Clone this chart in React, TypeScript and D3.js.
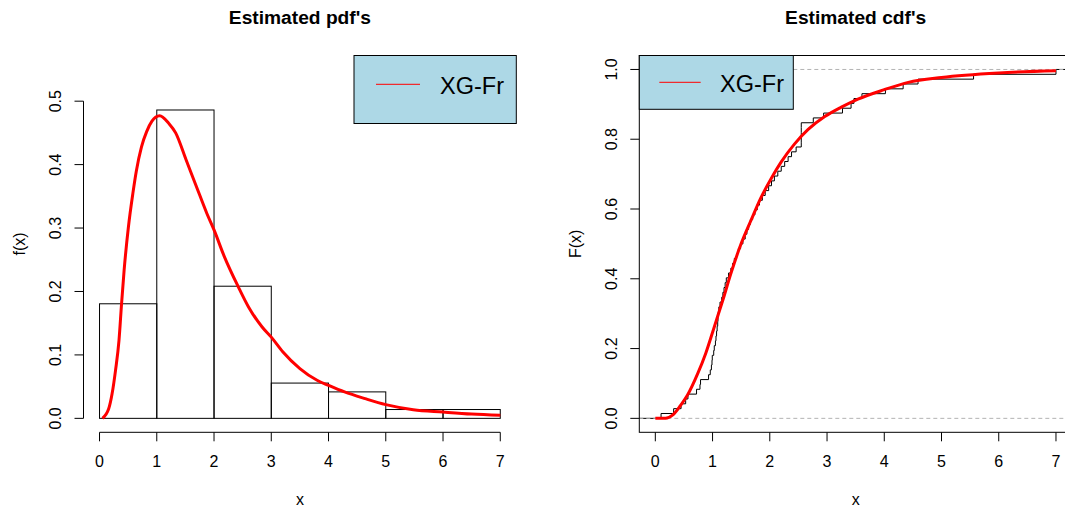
import * as d3 from 'd3'

// histogram (density scale), breaks 0..7
const HIST_BREAKS = [0, 1, 2, 3, 4, 5, 6, 7]
const HIST_DENSITY = [0.1806, 0.4861, 0.2083, 0.0556, 0.0417, 0.0139, 0.0139]

// sorted sample (n = 72)
const SAMPLE = [
  0.10, 0.32, 0.45, 0.53, 0.57, 0.72, 0.78, 0.79, 0.93, 0.96, 0.98, 0.99, 0.995,
  1.02, 1.03, 1.05, 1.06, 1.07, 1.08, 1.09, 1.095, 1.10, 1.11,
  1.13, 1.16, 1.18, 1.20, 1.22, 1.24,
  1.28, 1.32, 1.35, 1.38, 1.42, 1.45, 1.49,
  1.53, 1.57, 1.60, 1.63, 1.66, 1.70, 1.74,
  1.78, 1.82, 1.87, 1.92, 1.98,
  2.03, 2.08, 2.14, 2.20, 2.26, 2.32, 2.38, 2.46,
  2.55, 2.55, 2.55, 2.55, 2.55, 2.76, 2.94,
  3.27, 3.42, 3.47, 3.61,
  4.02, 4.33, 4.59,
  5.56,
  7.0
]

// fitted XG-Fr density
const PDF_X = [0.05, 0.16, 0.22, 0.28, 0.34, 0.385, 0.43, 0.505, 0.583, 0.643, 0.733, 0.823, 0.913, 1.05, 1.21, 1.33, 1.51, 1.69, 1.875, 2.0, 2.18, 2.42, 2.6, 2.84, 3.0, 3.2, 3.5, 3.8, 4.0, 4.28, 4.64, 5.0, 5.48, 6.0, 6.5, 7.0]
const PDF_Y = [0, 0.015, 0.039, 0.076, 0.123, 0.181, 0.234, 0.302, 0.355, 0.39, 0.428, 0.452, 0.468, 0.477, 0.465, 0.45, 0.408, 0.366, 0.323, 0.297, 0.255, 0.208, 0.176, 0.144, 0.128, 0.105, 0.0785, 0.06, 0.052, 0.0416, 0.031, 0.0216, 0.0137, 0.01, 0.0068, 0.0047]

// fitted XG-Fr cdf
const CDF_X = [0, 0.18, 0.3, 0.44, 0.56, 0.74, 0.88, 1.03, 1.18, 1.32, 1.5, 1.67, 1.85, 2.02, 2.2, 2.43, 2.67, 2.96, 3.25, 3.54, 4.0, 4.42, 5.0, 6.0, 7.0]
const CDF_Y = [0, 0, 0.009, 0.037, 0.066, 0.128, 0.186, 0.262, 0.339, 0.415, 0.501, 0.567, 0.634, 0.686, 0.735, 0.786, 0.828, 0.865, 0.892, 0.915, 0.942, 0.963, 0.977, 0.99, 0.996]

const X_TICKS = [0, 1, 2, 3, 4, 5, 6, 7]
const PDF_TICKS = [0, 0.1, 0.2, 0.3, 0.4, 0.5]
const CDF_TICKS = [0, 0.2, 0.4, 0.6, 0.8, 1.0]

const FONT = '"Liberation Sans", Arial, sans-serif'
const TOP = 55.5
const BOTTOM = 432.3

export default function App() {
  // left panel scales
  const xL = d3.scaleLinear().domain([-0.28, 7.28]).range([83.5, 516.3])
  const yL = d3.scaleLinear().domain([-0.022, 0.572]).range([BOTTOM, TOP])
  // right panel scales
  const xR = d3.scaleLinear().domain([-0.28, 7.28]).range([639.3, 1072])
  const yR = d3.scaleLinear().domain([-0.04, 1.04]).range([BOTTOM, TOP])

  const pdfLine = d3.line<number>()
    .x((_, i) => xL(PDF_X[i]))
    .y(d => yL(d))
    .curve(d3.curveMonotoneX)

  const cdfLine = d3.line<number>()
    .x((_, i) => xR(CDF_X[i]))
    .y(d => yR(d))
    .curve(d3.curveMonotoneX)

  // ecdf step path with verticals
  const n = SAMPLE.length
  let ecdf = `M${xR.range()[0]},${yR(0)}`
  SAMPLE.forEach((v, i) => {
    ecdf += `H${xR(v)}V${yR((i + 1) / n)}`
  })
  ecdf += `H${xR.range()[1]}`

  const yLabel = (x: number, y: number, t: string) => (
    <text transform={`translate(${x},${y}) rotate(-90)`} textAnchor="middle">{t}</text>
  )

  return (
    <svg width={1065} height={510} style={{ position: 'absolute', left: 0, top: 0, background: '#fff' }}
      fontFamily={FONT} fontSize={16}>
      <defs>
        <clipPath id="clipR">
          <rect x={639.3} y={TOP} width={1072 - 639.3} height={BOTTOM - TOP} />
        </clipPath>
      </defs>

      {/* ---------- left: estimated pdf ---------- */}
      <text x={(83.5 + 516.3) / 2} y={24} textAnchor="middle" fontWeight="bold" fontSize={19.2}>Estimated pdf's</text>

      {HIST_DENSITY.map((d, i) => (
        <rect key={i}
          x={xL(HIST_BREAKS[i])} y={yL(d)}
          width={xL(HIST_BREAKS[i + 1]) - xL(HIST_BREAKS[i])}
          height={yL(0) - yL(d)}
          fill="none" stroke="#000" strokeWidth={1} />
      ))}

      <path d={pdfLine(PDF_Y) || ''} fill="none" stroke="#ff0000" strokeWidth={3} />

      {/* y axis */}
      <line x1={83.5} x2={83.5} y1={yL(0)} y2={yL(0.5)} stroke="#000" />
      {PDF_TICKS.map(t => (
        <g key={t}>
          <line x1={74.5} x2={83.5} y1={yL(t)} y2={yL(t)} stroke="#000" />
          {yLabel(61, yL(t), t.toFixed(1))}
        </g>
      ))}
      {/* x axis */}
      <line x1={xL(0)} x2={xL(7)} y1={BOTTOM} y2={BOTTOM} stroke="#000" />
      {X_TICKS.map(t => (
        <g key={t}>
          <line x1={xL(t)} x2={xL(t)} y1={BOTTOM} y2={BOTTOM + 9} stroke="#000" />
          <text x={xL(t)} y={467} textAnchor="middle">{t}</text>
        </g>
      ))}
      <text x={(83.5 + 516.3) / 2} y={505} textAnchor="middle">x</text>
      {yLabel(24.5, (TOP + BOTTOM) / 2, 'f(x)')}

      {/* legend */}
      <rect x={354} y={TOP} width={516.3 - 354} height={68} fill="#add8e6" stroke="#000" />
      <line x1={376} x2={420} y1={84.3} y2={84.3} stroke="#ff0000" strokeWidth={1} />
      <text x={440} y={94.3} fontSize={23.5}>XG-Fr</text>

      {/* ---------- right: estimated cdf ---------- */}
      <text x={(639.3 + 1072) / 2} y={24} textAnchor="middle" fontWeight="bold" fontSize={19.2}>Estimated cdf's</text>

      <g clipPath="url(#clipR)">
        <path d={ecdf} fill="none" stroke="#000" strokeWidth={1} />
        {[0, 1].map(h => (
          <line key={h} x1={639.3} x2={1072} y1={yR(h)} y2={yR(h)} stroke="#b3b3b3" strokeDasharray="4,3" />
        ))}
        <path d={cdfLine(CDF_Y) || ''} fill="none" stroke="#ff0000" strokeWidth={3} />
      </g>

      <rect x={639.3} y={TOP} width={1072 - 639.3} height={BOTTOM - TOP} fill="none" stroke="#000" />
      {CDF_TICKS.map(t => (
        <g key={t}>
          <line x1={630.3} x2={639.3} y1={yR(t)} y2={yR(t)} stroke="#000" />
          {yLabel(617, yR(t), t.toFixed(1))}
        </g>
      ))}
      {X_TICKS.map(t => (
        <g key={t}>
          <line x1={xR(t)} x2={xR(t)} y1={BOTTOM} y2={BOTTOM + 9} stroke="#000" />
          <text x={xR(t)} y={467} textAnchor="middle">{t}</text>
        </g>
      ))}
      <text x={(639.3 + 1072) / 2} y={505} textAnchor="middle">x</text>
      {yLabel(580.5, (TOP + BOTTOM) / 2, 'F(x)')}

      {/* legend */}
      <rect x={639.3} y={TOP} width={793.3 - 639.3} height={109.3 - TOP} fill="#add8e6" stroke="#000" />
      <line x1={659.3} x2={700.7} y1={82.3} y2={82.3} stroke="#ff0000" strokeWidth={1} />
      <text x={720} y={92.3} fontSize={23.5}>XG-Fr</text>
    </svg>
  )
}
